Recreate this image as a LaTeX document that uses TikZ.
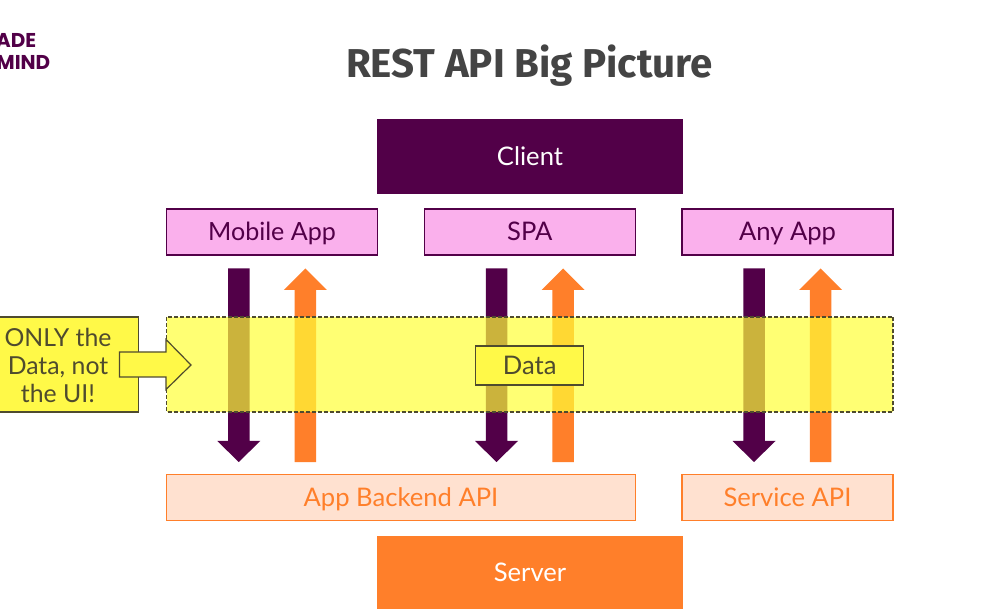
\documentclass[tikz,border=0pt]{standalone}
\usepackage{fontspec}
\setmainfont{Lato}
\newfontfamily\titlefont{Fira Sans}
\newfontfamily\logofont{Poppins}
\definecolor{plum}{HTML}{520048}
\definecolor{pinkbox}{HTML}{FAB0EC}
\definecolor{orangemain}{HTML}{FF7F2A}
\definecolor{orangelight}{HTML}{FFE1D0}
\definecolor{yellowmain}{HTML}{FFF948}
\definecolor{yellowband}{HTML}{FFFF38}
\definecolor{inkgrey}{HTML}{444444}
\definecolor{inkolive}{HTML}{4F4B2E}
\tikzset{
  box/.style={inner sep=0pt,text height=13.2pt,text depth=0pt,font=\fontsize{19.2}{22}\selectfont},
  clientbox/.style={box,fill=plum,text=white},
  pinknode/.style={box,fill=pinkbox,draw=plum,line width=0.9pt,text=plum},
  serverbox/.style={box,fill=orangemain,text=white},
  apibox/.style={box,fill=orangelight,draw=orangemain,line width=0.9pt,text=orangemain},
  notebox/.style={box,fill=yellowmain,draw=inkolive,line width=0.9pt,text=inkolive},
  downarrow/.style={fill=plum},
  uparrow/.style={fill=orangemain},
}
\newcommand{\downarr}[1]{\fill[downarrow] (#1-10.75,268.5) -- (#1+10.75,268.5) -- (#1+10.75,441) -- (#1+21.5,441) -- (#1,462) -- (#1-21.5,441) -- (#1-10.75,441) -- cycle;}
\newcommand{\uparr}[1]{\fill[uparrow] (#1-10.75,462) -- (#1+10.75,462) -- (#1+10.75,290) -- (#1+21.5,290) -- (#1,268.5) -- (#1-21.5,290) -- (#1-10.75,290) -- cycle;}
\begin{document}
\begin{tikzpicture}[x=0.75pt,y=-0.75pt]
\useasboundingbox (0,0) rectangle (996,609);
\clip (0,0) rectangle (996,609);
\fill[white] (0,0) rectangle (996,609);

% logo
\node[anchor=base east,inner sep=0pt,text=plum,font=\logofont\fontsize{15}{18}\selectfont\bfseries] (logoa) at (36.5,48) {ADE};
\node[anchor=base east,inner sep=0pt,text=plum,font=\logofont\fontsize{15}{18}\selectfont\bfseries] (logob) at (50.5,70) {MIND};

% title
\node[anchor=base,inner sep=0pt,text=inkgrey,font=\titlefont\fontsize{30.2}{34}\selectfont\bfseries] (title) at (529.5,78) {REST API Big Picture};

% top row
\node[clientbox,minimum width=229.5pt,minimum height=56.25pt] (client) at (530,156.5) {Client};
\node[pinknode,minimum width=158.25pt,minimum height=34.5pt,font=\fontsize{18.8}{22}\selectfont] (mobile) at (272,232) {Mobile App};
\node[pinknode,minimum width=158.25pt,minimum height=34.5pt] (spa) at (529.75,232) {SPA};
\node[pinknode,minimum width=158.25pt,minimum height=34.5pt] (any) at (787.5,232) {Any App};

% block arrows
\downarr{238.75}\uparr{305.25}
\downarr{496.5}\uparr{563}
\downarr{754}\uparr{820.5}

% data band
\fill[yellowband,opacity=0.7] (166.5,317) rectangle (893,412);
\draw[inkolive,line width=0.8pt,dash pattern=on 3pt off 1.5pt] (166.5,317) rectangle (893,412);

% data box
\node[notebox,minimum width=81pt,minimum height=29.25pt] (data) at (529.75,365.5) {Data};

% note with arrow
\node[notebox,anchor=east,minimum width=122pt,minimum height=71.25pt] (note) at (139,364.5) {};
\node[inner sep=0pt,align=center,text=inkolive,font=\fontsize{18.6}{21}\selectfont] (notetext) at (58,365) {ONLY the\\Data, not\\the UI!};
\filldraw[fill=yellowmain,draw=inkolive,line width=0.9pt] (119.5,352) -- (166,352) -- (166,339.5) -- (191,365) -- (166,389.5) -- (166,377) -- (119.5,377) -- cycle;

% bottom row
\node[apibox,minimum width=351.75pt,minimum height=35pt] (backend) at (401,497.5) {App Backend API};
\node[apibox,minimum width=158.25pt,minimum height=35pt] (service) at (787.5,497.5) {Service API};
\node[serverbox,minimum width=229.5pt,minimum height=54.75pt] (server) at (530,572.5) {Server};
\end{tikzpicture}
\end{document}
